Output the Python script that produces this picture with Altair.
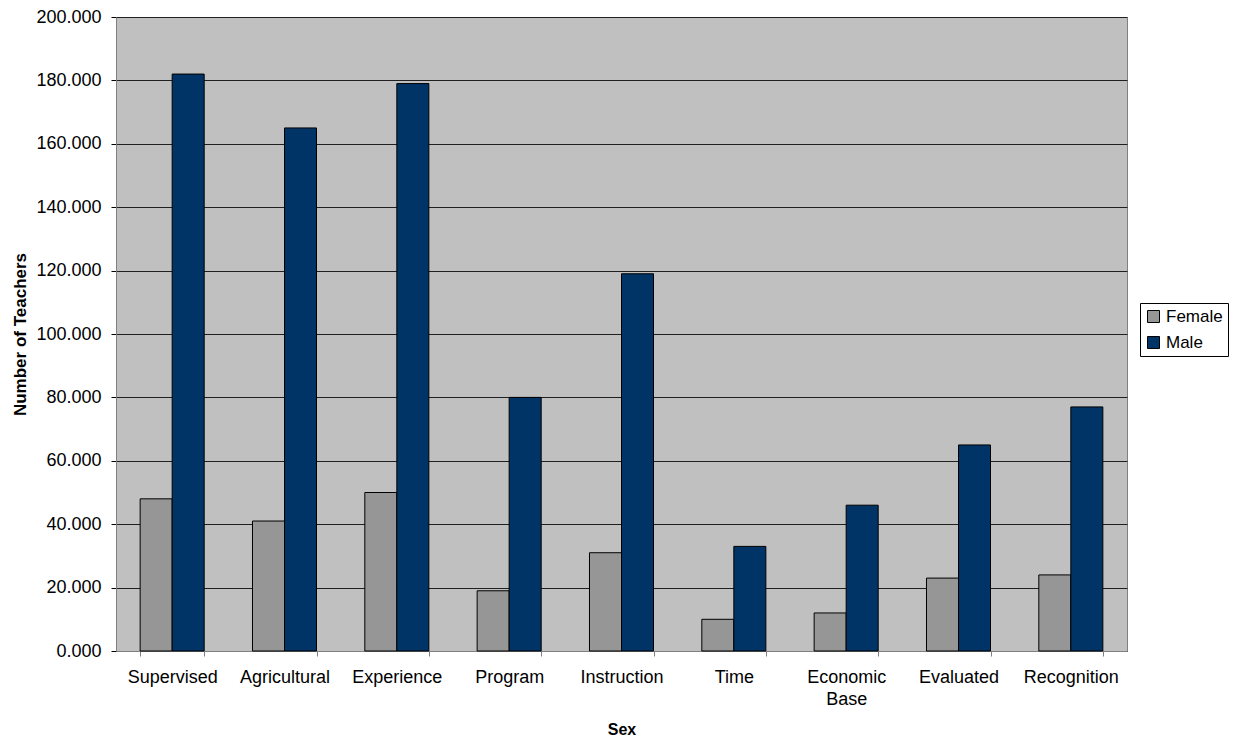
import altair as alt
import pandas as pd

categories = ["Supervised", "Agricultural", "Experience", "Program", "Instruction",
              "Time", "Economic Base", "Evaluated", "Recognition"]
female = [48, 41, 50, 19, 31, 10, 12, 23, 24]
male = [182, 165, 179, 80, 119, 33, 46, 65, 77]
y_ticks = [0, 20, 40, 60, 80, 100, 120, 140, 160, 180, 200]

rows = []
for c, f, m in zip(categories, female, male):
    rows.append({"category": c, "sex": "Female", "teachers": f})
    rows.append({"category": c, "sex": "Male", "teachers": m})
df = pd.DataFrame(rows)

FONT = "Liberation Sans"

chart = (
    alt.Chart(df)
    .mark_bar(stroke="black", strokeWidth=1)
    .encode(
        x=alt.X(
            "category:N",
            sort=categories,
            title="Sex",
            scale=alt.Scale(paddingInner=0.43, paddingOuter=0.215),
            axis=alt.Axis(
                labelAngle=0,
                tickBand="extent",
                labelExpr="split(datum.label, ' ')",
                labelPadding=12,
                labelLineHeight=22,
                titlePadding=13,
                titleFontSize=16,
                domainColor="#808080",
                tickColor="#808080",
            ),
        ),
        xOffset=alt.XOffset("sex:N", sort=["Female", "Male"]),
        y=alt.Y(
            "teachers:Q",
            title="Number of Teachers",
            scale=alt.Scale(domain=[0, 200], nice=False),
            axis=alt.Axis(
                values=y_ticks,
                format=".3f",
                grid=True,
                gridColor="#202020",
                gridWidth=1,
                domainColor="#808080",
                tickColor="#000000",
                labelPadding=10,
                titlePadding=6,
                titleFontSize=17,
            ),
        ),
        color=alt.Color(
            "sex:N",
            sort=["Female", "Male"],
            scale=alt.Scale(domain=["Female", "Male"], range=["#969696", "#003366"]),
            legend=alt.Legend(
                title=None,
                orient="none",
                legendX=1024,
                legendY=286,
                symbolType="square",
                symbolSize=144,
                symbolStrokeColor="black",
                symbolStrokeWidth=1,
                strokeColor="black",
                padding=5,
                labelFontSize=17,
                labelOffset=4,
                rowPadding=8,
            ),
        ),
    )
    .properties(
        width=1011,
        height=634,
        autosize=alt.AutoSizeParams(type="none"),
        padding={"left": 108, "top": 9, "right": 106, "bottom": 89},
    )
    .configure_view(fill="#C0C0C0", stroke="#808080")
    .configure_axis(
        labelFont=FONT,
        titleFont=FONT,
        labelFontSize=18,
        titleFontWeight="bold",
        labelColor="black",
        titleColor="black",
        tickSize=5,
    )
    .configure_legend(labelFont=FONT, labelColor="black")
)

chart.save("out.html", embed_options={"renderer": "svg", "actions": False})
